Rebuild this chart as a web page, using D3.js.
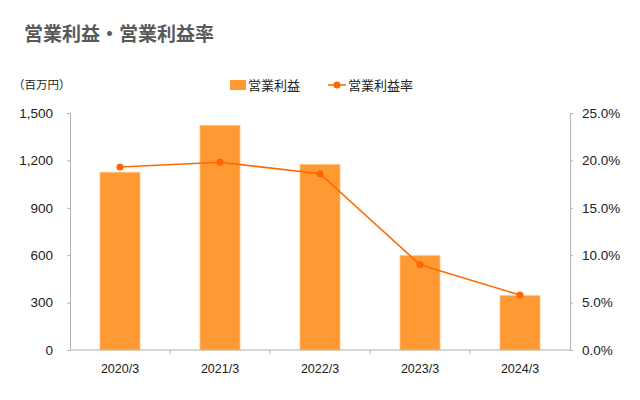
<!DOCTYPE html>
<html><head><meta charset="utf-8">
<script src="https://cdn.jsdelivr.net/npm/d3@7"></script>
<style>body{margin:0;background:#fff}svg{display:block}text{font-family:"Liberation Sans","Noto Sans CJK JP",sans-serif}</style>
</head><body>
<svg id="c" width="640" height="400"></svg>
<script>
const categories = ["2020/3","2021/3","2022/3","2023/3","2024/3"];
const profit = [1125, 1422, 1175, 597, 344];
const margin = [19.3, 19.8, 18.6, 9.0, 5.8];
const leftTicks = [0,300,600,900,1200,1500];
const rightTicks = [0,5,10,15,20,25];

const svg = d3.select("#c");
const L = 70, R = 570, T = 113, B = 350;
const xc = d3.scaleBand().domain(categories).range([L,R]);
const yL = d3.scaleLinear().domain([0,1500]).range([B,T]);
const yR = d3.scaleLinear().domain([0,25]).range([B,T]);
const axisCol = "#b3b3b3";
const textCol = "#222";

svg.append("text").attr("x",24).attr("y",41).attr("font-size",19).attr("font-weight","bold")
  .attr("fill","#595959").attr("font-family","'Noto Sans CJK JP',sans-serif").text("営業利益・営業利益率");
svg.append("text").attr("x",13).attr("y",89).attr("font-size",11.5).attr("fill",textCol)
  .attr("font-family","'Noto Sans CJK JP',sans-serif").text("（百万円）");

// legend
svg.append("rect").attr("x",230).attr("y",80).attr("width",16).attr("height",10).attr("fill","#FF9933");
svg.append("text").attr("x",248).attr("y",90).attr("font-size",13).attr("fill",textCol)
  .attr("font-family","'Noto Sans CJK JP',sans-serif").text("営業利益");
svg.append("line").attr("x1",328).attr("x2",346).attr("y1",85).attr("y2",85).attr("stroke","#FF6A00").attr("stroke-width",1.5);
svg.append("circle").attr("cx",337).attr("cy",85).attr("r",3.5).attr("fill","#FF6600");
svg.append("text").attr("x",348).attr("y",90).attr("font-size",13).attr("fill",textCol)
  .attr("font-family","'Noto Sans CJK JP',sans-serif").text("営業利益率");

// bars
svg.append("g").selectAll("rect").data(categories).join("rect")
  .attr("x",d=>xc(d)+xc.bandwidth()/2-20).attr("width",40)
  .attr("y",(d,i)=>yL(profit[i])).attr("height",(d,i)=>B-yL(profit[i]))
  .attr("fill","#FF9933").attr("stroke","#FFC080").attr("stroke-width",0.8);

// axes
const gL = svg.append("g").attr("transform",`translate(${L},0)`)
  .call(d3.axisLeft(yL).tickValues(leftTicks).tickSize(3).tickPadding(14).tickFormat(d3.format(",")));
const gR = svg.append("g").attr("transform",`translate(${R},0)`)
  .call(d3.axisRight(yR).tickValues(rightTicks).tickSize(3).tickPadding(9).tickFormat(d=>d.toFixed(1)+"%"));
const gB = svg.append("g").attr("transform",`translate(0,${B})`)
  .call(d3.axisBottom(xc).tickSize(0).tickPadding(14));
svg.append("g").selectAll("line").data(categories.slice(1)).join("line")
  .attr("x1",d=>xc(d)).attr("x2",d=>xc(d)).attr("y1",B).attr("y2",B+4).attr("stroke",axisCol);
[gL,gR,gB].forEach(g=>{
  g.select(".domain").attr("stroke",axisCol);
  g.selectAll(".tick line").attr("stroke",axisCol);
  g.selectAll(".tick text").attr("fill",textCol).attr("font-family","'Liberation Sans',sans-serif");
});
gL.selectAll(".tick text").attr("font-size",13.5);
gR.selectAll(".tick text").attr("font-size",13.5);
gB.selectAll(".tick text").attr("font-size",12.5);
gB.select(".domain").attr("d",`M${L},0H${R}`);

// line
const line = d3.line().x((d,i)=>xc(categories[i])+xc.bandwidth()/2).y(d=>yR(d));
svg.append("path").datum(margin).attr("d",line).attr("fill","none").attr("stroke","#FF6A00").attr("stroke-width",1.6);
svg.append("g").selectAll("circle").data(margin).join("circle")
  .attr("cx",(d,i)=>xc(categories[i])+xc.bandwidth()/2).attr("cy",d=>yR(d)).attr("r",3.5).attr("fill","#FF6600");
</script>
</body></html>
